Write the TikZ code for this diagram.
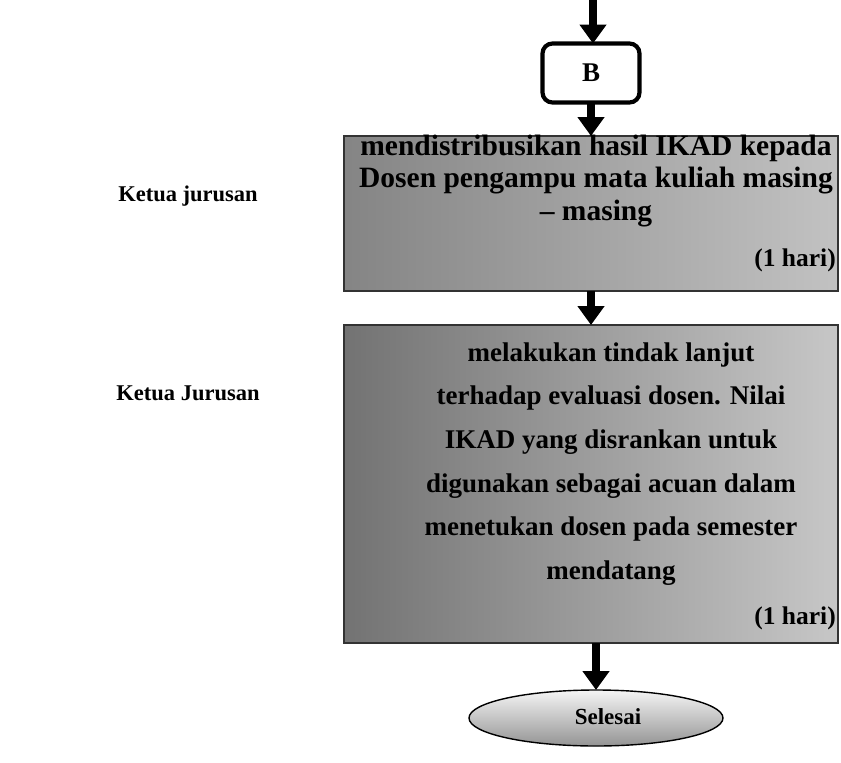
\documentclass[tikz,border=0pt]{standalone}
\usepackage{fontspec}
\setmainfont{Liberation Serif}
\usetikzlibrary{arrows.meta,shapes.geometric}
\begin{document}
\begin{tikzpicture}[x=1pt,y=-1pt,
  flowarrow/.style={line width=8pt,-{Triangle[width=26pt,length=19pt]}},
  procbox/.style={draw=black!80,line width=1.6pt,
    minimum width=494pt,inner sep=0pt,outer sep=0pt},
  boxtext/.style={align=center,inner sep=0pt},
  labeltext/.style={font=\bfseries\fontsize{22.5}{27}\selectfont,inner sep=0pt},
  daytext/.style={font=\bfseries\fontsize{25.5}{30}\selectfont,inner sep=0pt,anchor=east}
]
\useasboundingbox (0,0) rectangle (841,763);

% start coordinate of the incoming arrow
\coordinate (top) at (593,0);

% connector node B
\node[draw,line width=4.2pt,rounded corners=10pt,minimum width=97pt,minimum height=59pt,
      font=\bfseries\fontsize{27}{30}\selectfont,outer sep=0pt] (B) at (591,73) {B};

% process boxes
\node[procbox,left color=black!48,right color=black!24,minimum height=155pt] (box1) at (591,213.5) {};
\node[procbox,left color=black!55,right color=black!22,minimum height=318pt] (box2) at (591,484) {};

% terminator
\node[ellipse,draw=black,line width=1.4pt,top color=black!4,bottom color=black!42,
      minimum width=254pt,minimum height=56pt,inner sep=0pt,outer sep=0pt] (sel) at (596,718) {};

% texts in box 1
\node[boxtext,font=\bfseries\fontsize{29.5}{32.5}\selectfont] (t1) at (596,181)
  {mendistribusikan hasil IKAD kepada\\Dosen pengampu mata kuliah masing\\\textendash{} masing};
\node[daytext] (d1) at (836,260) {(1 hari)};

% texts in box 2
\node[boxtext,font=\bfseries\fontsize{27}{43.6}\selectfont] (t2) at (611,464)
  {melakukan tindak lanjut\\terhadap evaluasi dosen. Nilai\\IKAD yang disrankan untuk\\digunakan sebagai acuan dalam\\menetukan dosen pada semester\\mendatang};
\node[daytext] (d2) at (836,618) {(1 hari)};

% terminator text
\node[font=\bfseries\fontsize{23}{27}\selectfont,inner sep=0pt] (selt) at (608,717) {Selesai};

% role labels
\node[labeltext] (k1) at (188,196) {Ketua jurusan};
\node[labeltext] (k2) at (188,393) {Ketua Jurusan};

% connectors
\draw[flowarrow] (top) -- (top |- B.north);
\draw[flowarrow] (B.south) -- (B.south |- box1.north);
\draw[flowarrow] (B.south |- box1.south) -- (B.south |- box2.north);
\draw[flowarrow] (sel.north |- box2.south) -- (sel.north);
\end{tikzpicture}
\end{document}
